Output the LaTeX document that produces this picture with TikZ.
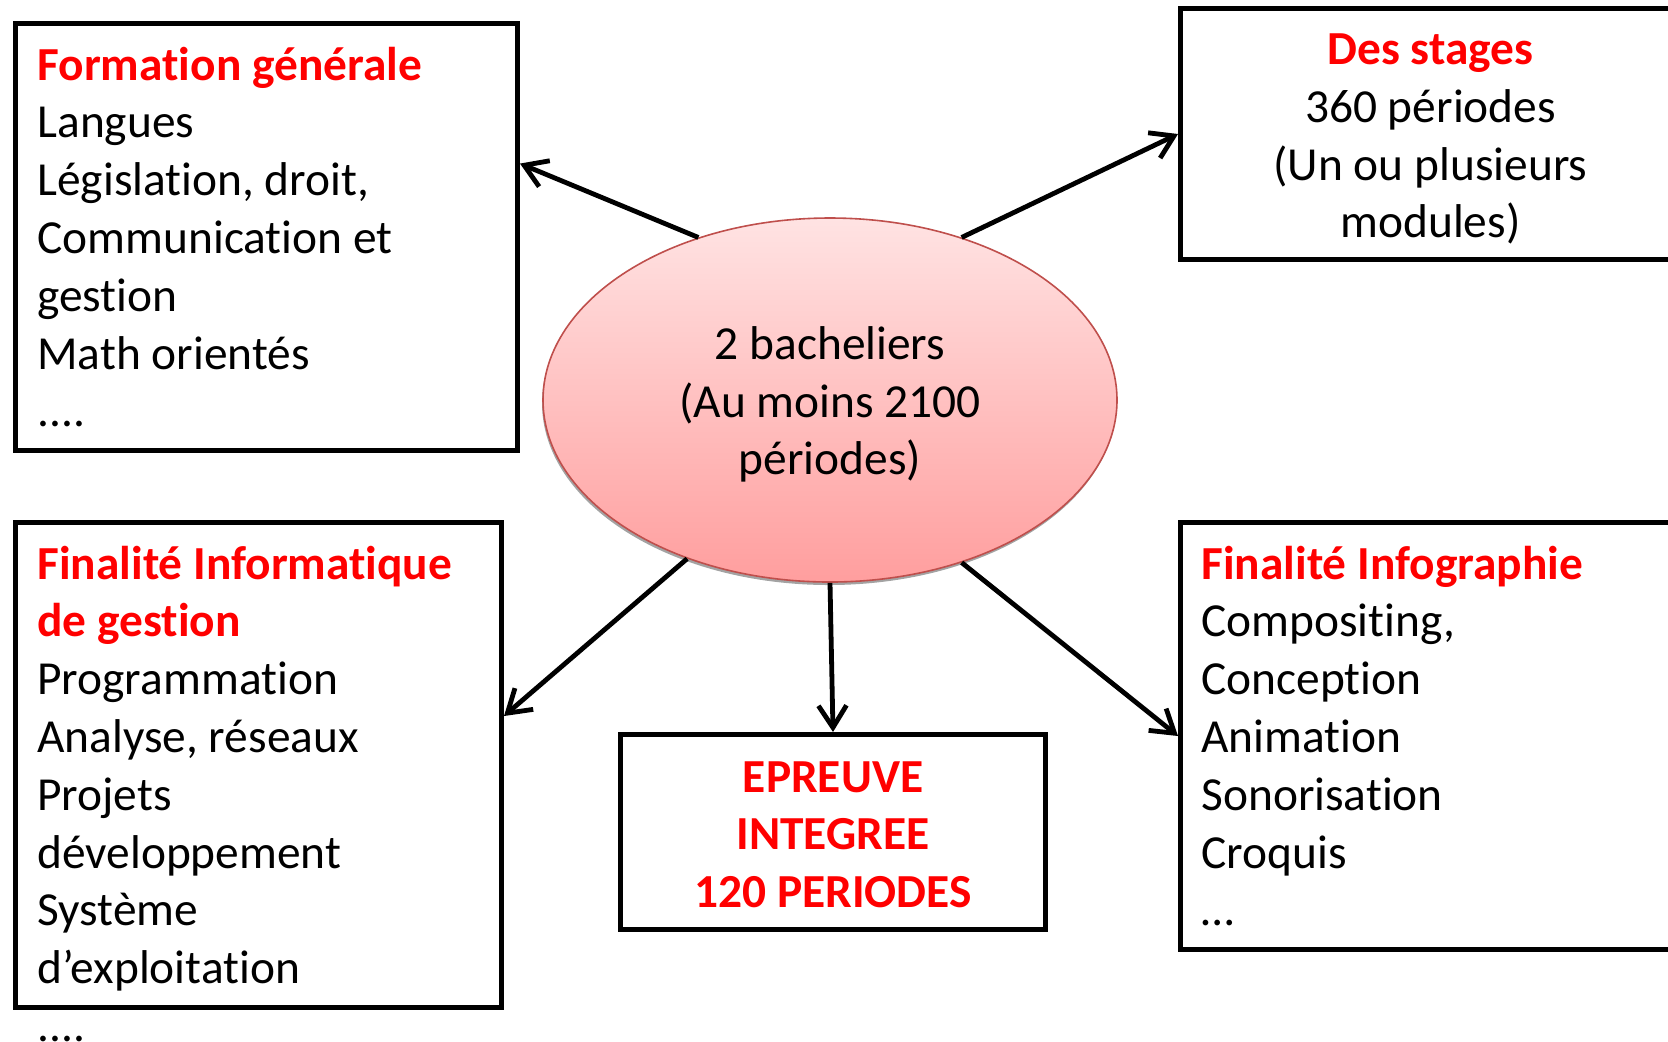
\documentclass[tikz,border=0pt]{standalone}
\usepackage{fontspec}
\setmainfont{Carlito}[Ligatures=NoCommon]
\usepackage{xcolor}
\usepackage{tikz}
\usetikzlibrary{shapes}
\usetikzlibrary{shadows}
\usetikzlibrary{arrows.meta}
\usetikzlibrary{calc}
\usetikzlibrary{positioning}
\definecolor{titre}{rgb}{1.0,0.0,0.0}
\definecolor{rosehaut}{rgb}{1.0,0.89,0.89}
\definecolor{rosebas}{rgb}{1.0,0.62,0.62}
\definecolor{bordrose}{rgb}{0.75,0.31,0.30}
\frenchspacing

\begin{document}
\begin{tikzpicture}[x=0.5pt,y=-0.5pt,
  font=\fontsize{23.7pt}{28.9pt}\selectfont,
  boite/.style={draw,line width=2.5pt,anchor=north west,inner sep=0pt},
  texte/.style={anchor=base west,align=flush left,inner sep=0pt,text width=240pt},
  centre/.style={anchor=base,align=flush center,inner sep=0pt,text width=240pt},
  fleche/.style={-{Straight Barb[length=11pt,width=14pt]},line width=2.4pt}]
  \useasboundingbox (0,0) rectangle (1668,1041);

  % les cadres
  \node[boite,minimum width=251pt,minimum height=213.5pt] (form) at (13,21) {};
  \node[boite,minimum width=250pt,minimum height=125.5pt] (stages) at (1178,6) {};
  \node[boite,minimum width=243pt,minimum height=242.5pt] (info) at (13,520) {};
  \node[boite,minimum width=250pt,minimum height=213.5pt] (infog) at (1178,520) {};
  \node[boite,minimum width=212.5pt,minimum height=97.5pt] (epreuve) at (618,732) {};

  % les textes
  \node[texte] (formtxt) at ([shift={(24,59)}]form.north west)
    {{\color{titre}\bfseries Formation générale}\\
     Langues\\
     Législation, droit,\\
     Communication et\\
     gestion\\
     Math orientés\\
     ....};
  \node[centre] (stagestxt) at ([shift={(0,58.5)}]stages.north)
    {{\color{titre}\bfseries Des stages}\\
     360 périodes\\
     (Un ou plusieurs\\
     modules)};
  \node[texte] (infotxt) at ([shift={(24,59)}]info.north west)
    {{\color{titre}\bfseries Finalité Informatique}\\
     {\color{titre}\bfseries de gestion}\\
     Programmation\\
     Analyse, réseaux\\
     Projets\\
     développement\\
     Système\\
     d’exploitation\\
     ....};
  \node[texte] (infogtxt) at ([shift={(23,59)}]infog.north west)
    {{\color{titre}\bfseries Finalité Infographie}\\
     Compositing,\\
     Conception\\
     Animation\\
     Sonorisation\\
     Croquis\\
     …};
  \node[centre] (epreuvetxt) at ([shift={(0,60)}]epreuve.north)
    {\color{titre}\bfseries EPREUVE\\
     INTEGREE\\
     120 PERIODES};

  % le centre
  \node[ellipse,draw=bordrose,line width=0.8pt,top color=rosehaut,bottom color=rosebas,
    drop shadow={shadow xshift=-0.5pt,shadow yshift=-1.5pt,fill=black!60,opacity=0.6},
    minimum width=287pt,minimum height=182pt,align=center] (bach) at (830,400)
    {\rule{0pt}{21pt}2 bacheliers\\(Au moins 2100\\périodes)};

  % les fleches
  \draw[fleche] (bach.129) -- ($(form.north east)!0.33!(form.south east)$);
  \draw[fleche] (bach.51) -- (stages.west);
  \draw[fleche] (bach.228) -- ($(info.north east)!0.40!(info.south east)$);
  \draw[fleche] (bach.south) -- (epreuve.north);
  \draw[fleche] (bach.309) -- (infog.west);
\end{tikzpicture}
\end{document}
